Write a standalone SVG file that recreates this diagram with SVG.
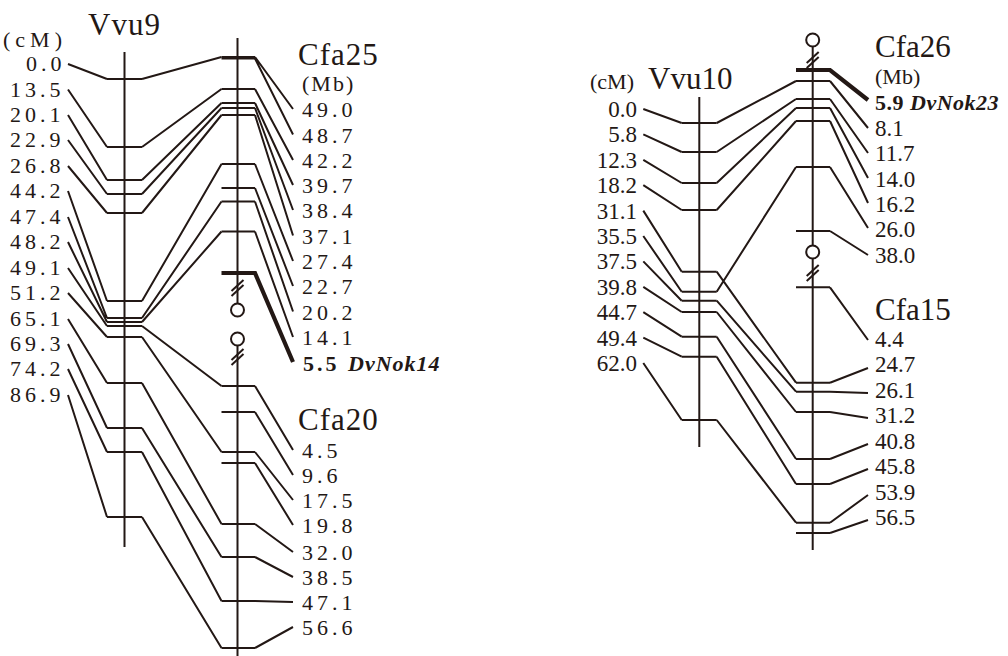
<svg xmlns="http://www.w3.org/2000/svg" width="1008" height="656" viewBox="0 0 1008 656">
<style>
.ln{stroke:#231815;stroke-width:2;fill:none;stroke-linejoin:miter}
.thk{stroke:#231815;stroke-width:4.2;fill:none}
.t{font-family:"Liberation Serif","Times New Roman",serif;fill:#231815;font-size:22px}
.r{font-size:23px}
.sp{letter-spacing:4px}
.ttl{font-size:31px}
.b{font-weight:bold}
.bi{font-weight:bold;font-style:italic}
</style>
<defs>
<g id="brk" class="ln"><line x1="-6" y1="3" x2="6" y2="-8"/><line x1="-6" y1="8" x2="6" y2="-3"/></g>
</defs>
<rect width="1008" height="656" fill="#ffffff"/>

<!-- Vvu9 -->
<g id="vvu9">
<text class="t ttl" x="88" y="35" style="letter-spacing:1px">Vvu9</text>
<text class="t" x="3" y="47" style="letter-spacing:5px">(cM)</text>
<g class="t sp">
<text x="26" y="71">0.0</text>
<text x="10" y="96.5">13.5</text>
<text x="10" y="122">20.1</text>
<text x="10" y="147">22.9</text>
<text x="10" y="173">26.8</text>
<text x="10" y="198">44.2</text>
<text x="10" y="224">47.4</text>
<text x="10" y="249">48.2</text>
<text x="10" y="275">49.1</text>
<text x="10" y="300">51.2</text>
<text x="10" y="325.5">65.1</text>
<text x="10" y="351">69.3</text>
<text x="10" y="376">74.2</text>
<text x="10" y="402">86.9</text>
</g>
<g class="ln">
<line x1="124.5" y1="52" x2="124.5" y2="547"/>
<path d="M107 79H142M107 147H142M107 180H142M107 194H142M107 213H142M107 301H142M107 318H142M107 322H142M107 326H142M107 337H142M107 383H142M107 428H142M107 452H142M107 517H142"/>
</g>
</g>

<!-- Cfa25 -->
<g id="cfa25">
<text class="t ttl" x="298" y="65" style="letter-spacing:1px">Cfa25</text>
<text class="t" x="302" y="91" style="letter-spacing:2px">(Mb)</text>
<g class="t sp">
<text x="302" y="117">49.0</text>
<text x="302" y="142.5">48.7</text>
<text x="302" y="168">42.2</text>
<text x="302" y="193">39.7</text>
<text x="302" y="218">38.4</text>
<text x="302" y="243.5">37.1</text>
<text x="302" y="269">27.4</text>
<text x="302" y="294">22.7</text>
<text x="302" y="319.5">20.2</text>
<text x="302" y="345">14.1</text>
</g>
<text class="t b" x="303" y="371"><tspan style="letter-spacing:3px">5.5 </tspan><tspan class="bi" style="letter-spacing:1px">DvNok14</tspan></text>
<g class="ln">
<line x1="237.5" y1="38" x2="237.5" y2="303.5"/>
<circle cx="237.5" cy="310" r="6.5"/>
<path d="M221.5 57H255M221.5 58.5H255M221.5 89H255M221.5 103H255M221.5 108H255M221.5 115H255M221.5 164H255M221.5 188H255M221.5 201.5H255M221.5 231.5H255"/>
<path d="M255 57L293 109M255 58.5L293 134.5M255 89L293 160M255 103L293 185M255 108L293 210M255 115L293 235.5M255 164L293 261M255 188L293 286M255 201.5L293 311.5M255 231.5L293 337"/>
</g>
<path class="thk" d="M221.5 273H255L293 362"/>
<use href="#brk" x="237.5" y="288"/>
</g>

<!-- Cfa20 -->
<g id="cfa20">
<text class="t ttl" x="298" y="430" style="letter-spacing:1px">Cfa20</text>
<g class="t sp">
<text x="302" y="458">4.5</text>
<text x="302" y="483">9.6</text>
<text x="302" y="508">17.5</text>
<text x="302" y="533">19.8</text>
<text x="302" y="560">32.0</text>
<text x="302" y="585">38.5</text>
<text x="302" y="610">47.1</text>
<text x="302" y="635">56.6</text>
</g>
<g class="ln">
<circle cx="237.5" cy="339" r="6.5"/>
<line x1="237.5" y1="345.5" x2="237.5" y2="656"/>
<path d="M221.5 386H255M221.5 412H255M221.5 452H255M221.5 463H255M221.5 524H255M221.5 557H255M221.5 601H255M221.5 648H255"/>
<path d="M255 386L293 450M255 412L293 475M255 452L293 500M255 463L293 525M255 524L293 552M255 557L293 577M255 601L293 602M255 648L293 627"/>
</g>
<use href="#brk" x="237.5" y="357"/>
</g>

<!-- Vvu10 -->
<g id="vvu10">
<text class="t" x="590" y="89">(cM)</text>
<text class="t ttl" x="648" y="89">Vvu10</text>
<g class="t r" text-anchor="end">
<text x="637" y="117">0.0</text>
<text x="637" y="142.4">5.8</text>
<text x="637" y="167.8">12.3</text>
<text x="637" y="193.2">18.2</text>
<text x="637" y="218.6">31.1</text>
<text x="637" y="244">35.5</text>
<text x="637" y="269.4">37.5</text>
<text x="637" y="294.8">39.8</text>
<text x="637" y="320.2">44.7</text>
<text x="637" y="345.6">49.4</text>
<text x="637" y="371">62.0</text>
</g>
<g class="ln">
<line x1="699.3" y1="97" x2="699.3" y2="447"/>
<path d="M681.7 123H716.7M681.7 152H716.7M681.7 183H716.7M681.7 210H716.7M681.7 271.7H716.7M681.7 291.7H716.7M681.7 300.7H716.7M681.7 312H716.7M681.7 336.7H716.7M681.7 356.7H716.7M681.7 420H716.7"/>
</g>
</g>

<!-- Cfa26 -->
<g id="cfa26">
<text class="t ttl" x="875" y="57">Cfa26</text>
<text class="t" x="875" y="84">(Mb)</text>
<text class="t b" x="875" y="110" style="letter-spacing:0.5px">5.9 <tspan class="bi">DvNok23</tspan></text>
<g class="t r">
<text x="875" y="136">8.1</text>
<text x="875" y="161">11.7</text>
<text x="875" y="187">14.0</text>
<text x="875" y="212">16.2</text>
<text x="875" y="237">26.0</text>
<text x="875" y="263">38.0</text>
</g>
<g class="ln">
<circle cx="812.7" cy="40" r="6.5"/>
<line x1="812.7" y1="46.5" x2="812.7" y2="245.5"/>
<circle cx="812.7" cy="252" r="6.5"/>
<path d="M796 81H830M796 99H830M796 108H830M796 121H830M796 167H830M796 231H830"/>
<path d="M830 81L868 128M830 99L868 153M830 108L868 178M830 121L868 203M830 167L868 228M830 231L868 255"/>
</g>
<path class="thk" d="M796 70H830L868 100"/>
<use href="#brk" x="812.7" y="60"/>
</g>

<!-- Cfa15 -->
<g id="cfa15">
<text class="t ttl" x="875" y="320">Cfa15</text>
<g class="t r">
<text x="875" y="347">4.4</text>
<text x="875" y="372">24.7</text>
<text x="875" y="398">26.1</text>
<text x="875" y="423">31.2</text>
<text x="875" y="449">40.8</text>
<text x="875" y="474">45.8</text>
<text x="875" y="500">53.9</text>
<text x="875" y="525">56.5</text>
</g>
<g class="ln">
<line x1="812.7" y1="258.5" x2="812.7" y2="550"/>
<path d="M796 287.3H830M796 382.7H830M796 391.7H830M796 412H830M796 459H830M796 484H830M796 522.7H830M796 533H830"/>
<path d="M830 287.3L868 340M830 382.7L868 368M830 391.7L868 393M830 412L868 418M830 459L868 444M830 484L868 469M830 522.7L868 495M830 533L868 520"/>
</g>
<use href="#brk" x="812.7" y="273"/>
</g>

<!-- connectors -->
<g id="connectors" class="ln">
<path d="M68 64L107 79M68 89.5L107 147M68 115L107 180M68 140L107 194M68 166L107 213M68 191L107 301M68 217L107 318M68 242L107 322M68 268L107 326M68 293L107 337M68 319L107 383M68 344L107 428M68 369L107 452M68 395L107 517"/>
<path d="M142 79L221.5 57M142 147L221.5 89M142 180L221.5 103M142 194L221.5 108M142 213L221.5 115M142 301L221.5 164M142 318L221.5 201.5M142 322L221.5 231.5M142 326L221.5 386M142 337L221.5 452M142 383L221.5 524M142 428L221.5 557M142 452L221.5 601M142 517L221.5 648"/>
<path d="M643.3 109L681.7 123M643.3 134.4L681.7 152M643.3 159.8L681.7 183M643.3 185.2L681.7 210M643.3 210.6L681.7 271.7M643.3 236L681.7 291.7M643.3 261.4L681.7 300.7M643.3 286.8L681.7 312M643.3 312.2L681.7 336.7M643.3 337.6L681.7 356.7M643.3 363L681.7 420"/>
<path d="M716.7 123L796 81M716.7 152L796 99M716.7 183L796 108M716.7 210L796 121M716.7 291.7L796 167M716.7 271.7L796 382.7M716.7 300.7L796 391.7M716.7 312L796 412M716.7 336.7L796 459M716.7 356.7L796 484M716.7 420L796 522.7"/>
</g>
</svg>
